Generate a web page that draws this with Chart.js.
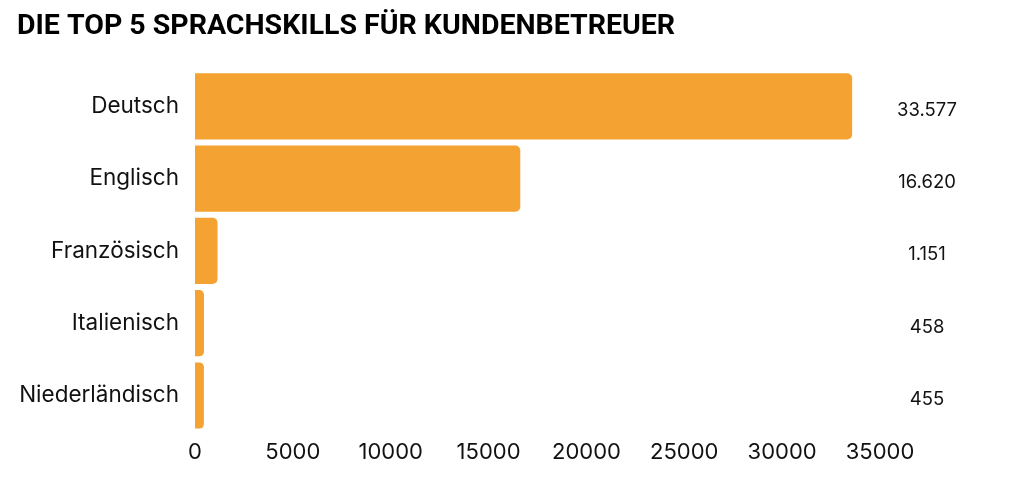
<!DOCTYPE html>
<html>
<head>
<meta charset="utf-8">
<script src="https://cdn.jsdelivr.net/npm/chart.js@4/dist/chart.umd.min.js"></script>
<style>
  html, body { margin: 0; padding: 0; background: #fff; }
  #wrap { width: 1014px; height: 489px; }
</style>
</head>
<body>
<div id="wrap"><canvas id="chart" width="1014" height="489"></canvas></div>
<script>
// Sprachskills, Anzahl Stellenanzeigen
const sprachen = ['Deutsch', 'Englisch', 'Französisch', 'Italienisch', 'Niederländisch'];
const anzahl   = [33577, 16620, 1151, 458, 455];
const xTicks   = [0, 5000, 10000, 15000, 20000, 25000, 30000, 35000];

const ORANGE = '#F4A232';
const TEXT   = '#111';
const FONT   = 'Inter, "Open Sans", sans-serif';

const fmtDE = (n) => String(n).replace(/\B(?=(\d{3})+(?!\d))/g, '.');

// Werte rechts in einer eigenen Spalte
const valueColumn = {
    id: 'valueColumn',
    afterDatasetsDraw(chart) {
        const { ctx } = chart;
        const meta = chart.getDatasetMeta(0);
        ctx.save();
        ctx.font = '18.5px ' + FONT;
        ctx.fillStyle = TEXT;
        ctx.textAlign = 'center';
        ctx.textBaseline = 'middle';
        meta.data.forEach((bar, i) => {
            ctx.fillText(fmtDE(anzahl[i]), 927, bar.y + 4);
        });
        ctx.restore();
    },
};

new Chart(document.getElementById('chart'), {
    type: 'bar',
    data: {
        labels: sprachen,
        datasets: [{
            data: anzahl,
            backgroundColor: ORANGE,
            borderRadius: 5,
            borderSkipped: 'start',
            categoryPercentage: 1,
            barPercentage: 0.915,
        }],
    },
    options: {
        indexAxis: 'y',
        responsive: false,
        animation: false,
        layout: { padding: { left: 17, right: 134, top: 0, bottom: 23 } },
        plugins: {
            legend: { display: false },
            tooltip: { enabled: false },
            title: {
                display: true,
                text: 'DIE TOP 5 SPRACHSKILLS FÜR KUNDENBETREUER',
                align: 'start',
                color: '#000',
                font: { family: 'Roboto, sans-serif', size: 28.5, weight: 'bold' },
                padding: { top: 10, bottom: 26 },
            },
        },
        scales: {
            x: {
                min: 0,
                max: 35000,
                afterBuildTicks: (scale) => { scale.ticks = xTicks.map((v) => ({ value: v })); },
                ticks: {
                    color: TEXT,
                    font: { family: FONT, size: 22 },
                    padding: 0,
                    maxRotation: 0,
                    callback: (v) => String(v),
                },
                grid: { display: false },
                border: { display: false },
            },
            y: {
                afterFit: (scale) => { scale.width = 178; },
                ticks: {
                    color: TEXT,
                    font: { family: FONT, size: 22.5 },
                    padding: 8,
                },
                grid: { display: false },
                border: { display: false },
            },
        },
    },
    plugins: [valueColumn],
});
</script>
</body>
</html>
